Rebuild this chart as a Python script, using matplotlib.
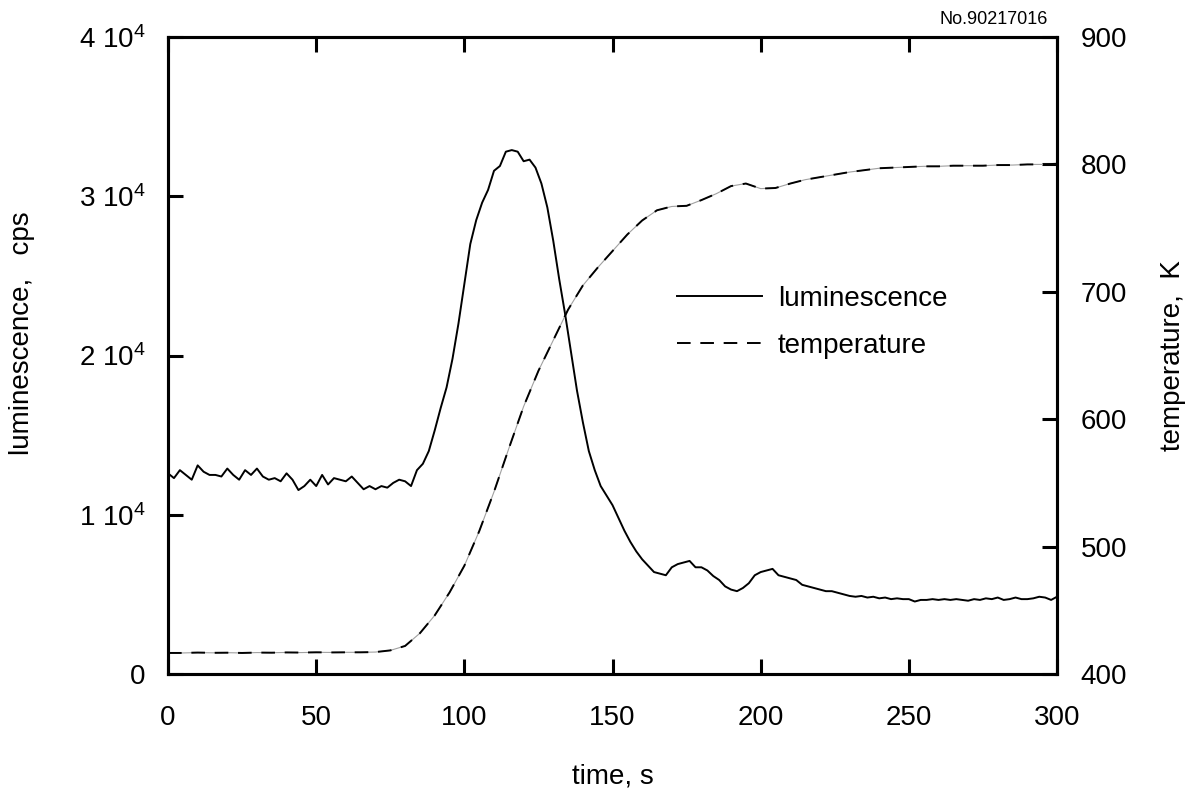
import numpy as np
import matplotlib
matplotlib.use("Agg")
import matplotlib.pyplot as plt

plt.rcParams["font.family"] = ["Liberation Sans", "DejaVu Sans"]
plt.rcParams["mathtext.default"] = "regular"

# luminescence, units of 1e4 cps, sampled every 2 s from 0 to 300 s
lum_time = np.arange(0, 301, 2)
lum = [
    1.26, 1.23, 1.28, 1.25, 1.22, 1.31, 1.27, 1.25, 1.25, 1.24,
    1.29, 1.25, 1.22, 1.28, 1.25, 1.29, 1.24, 1.22, 1.23, 1.21,
    1.26, 1.22, 1.155, 1.18, 1.22, 1.18, 1.25, 1.19, 1.23, 1.22,
    1.21, 1.24, 1.20, 1.16, 1.18, 1.16, 1.18, 1.17, 1.20, 1.22,
    1.21, 1.18, 1.28, 1.32, 1.40, 1.53, 1.67, 1.80, 1.98, 2.20,
    2.45, 2.70, 2.85, 2.96, 3.04, 3.16, 3.19, 3.28, 3.29, 3.28,
    3.22, 3.23, 3.18, 3.08, 2.93, 2.72, 2.48, 2.26, 2.02, 1.78,
    1.58, 1.40, 1.28, 1.18, 1.12, 1.06, 0.98, 0.90, 0.83, 0.77,
    0.72, 0.68, 0.64, 0.63, 0.62, 0.67, 0.69, 0.70, 0.71, 0.67,
    0.67, 0.65, 0.615, 0.59, 0.55, 0.53, 0.52, 0.54, 0.57, 0.62,
    0.64, 0.65, 0.66, 0.62, 0.61, 0.60, 0.59, 0.56, 0.55, 0.54,
    0.53, 0.52, 0.52, 0.51, 0.50, 0.49, 0.485, 0.49, 0.48, 0.485,
    0.475, 0.48, 0.47, 0.475, 0.47, 0.47, 0.455, 0.465, 0.465, 0.47,
    0.465, 0.47, 0.465, 0.47, 0.465, 0.46, 0.47, 0.465, 0.475, 0.47,
    0.48, 0.465, 0.47, 0.48, 0.47, 0.47, 0.475, 0.485, 0.48, 0.465,
    0.485,
]

# temperature, K, every 5 s
temp_time = np.arange(0, 301, 5)
temp = [
    416.5, 416.5, 416.8, 416.6, 416.7, 416.5, 416.8, 416.7, 416.9, 416.8,
    417.0, 416.9, 417.0, 417.0, 417.2, 418.5, 422, 432, 446, 464,
    485, 512, 543, 577, 610, 638, 662, 686, 705, 719,
    732, 745, 756, 764, 767, 767.5, 772, 777, 783, 785,
    781, 781.5, 785, 788, 790, 792, 794, 795.5, 797, 797.5,
    798, 798.5, 798.5, 799, 799, 799, 799.5, 799.5, 800, 800,
    800.5,
]

lum_ticks = [0, 1e4, 2e4, 3e4, 4e4]
lum_ticklabels = ["0", "1 10$^{4}$", "2 10$^{4}$", "3 10$^{4}$", "4 10$^{4}$"]
temp_ticks = [400, 500, 600, 700, 800, 900]
time_ticks = [0, 50, 100, 150, 200, 250, 300]

fig = plt.figure(figsize=(11.96, 7.93), dpi=100)
ax = fig.add_axes([0.1405, 0.1501, 0.7433, 0.8032])
ax2 = ax.twinx()

l1, = ax.plot(lum_time, np.array(lum) * 1e4, color="black", lw=1.4,
              label="luminescence")
ax2.plot(temp_time, temp, color="#a0a0a0", lw=0.8)
l2, = ax2.plot(temp_time, temp, color="black", lw=1.4, dashes=(7, 5),
               label="temperature")

ax.set_xlim(0, 300)
ax.set_ylim(0, 4e4)
ax2.set_ylim(400, 900)

ax.set_xticks(time_ticks)
ax.set_yticks(lum_ticks)
ax.set_yticklabels(lum_ticklabels)
ax2.set_yticks(temp_ticks)

for a in (ax, ax2):
    for s in a.spines.values():
        s.set_linewidth(2.2)
ax.tick_params(axis="x", direction="in", length=11, width=2.2, top=True,
               labelsize=20, pad=22)
ax.tick_params(axis="y", direction="in", length=11, width=2.2, labelsize=20,
               pad=16)
ax2.tick_params(axis="y", direction="in", length=11, width=2.2, labelsize=20,
                pad=17)

ax.set_xlabel("time, s", fontsize=20, labelpad=24)
ax.set_ylabel("luminescence,   cps", fontsize=20)
ax.yaxis.set_label_coords(-0.15, 0.535)
ax2.set_ylabel("temperature,  K", fontsize=20, labelpad=24)

ax2.legend(handles=[l1, l2], loc="upper left", bbox_to_anchor=(0.5726, 0.609),
           frameon=False, fontsize=20, handlelength=3.05, handletextpad=0.58,
           labelspacing=0.75, borderaxespad=0, borderpad=0)

fig.text(0.876, 0.975, "No.90217016", ha="right", va="center", fontsize=13)

fig.savefig("out.png", dpi=100)
